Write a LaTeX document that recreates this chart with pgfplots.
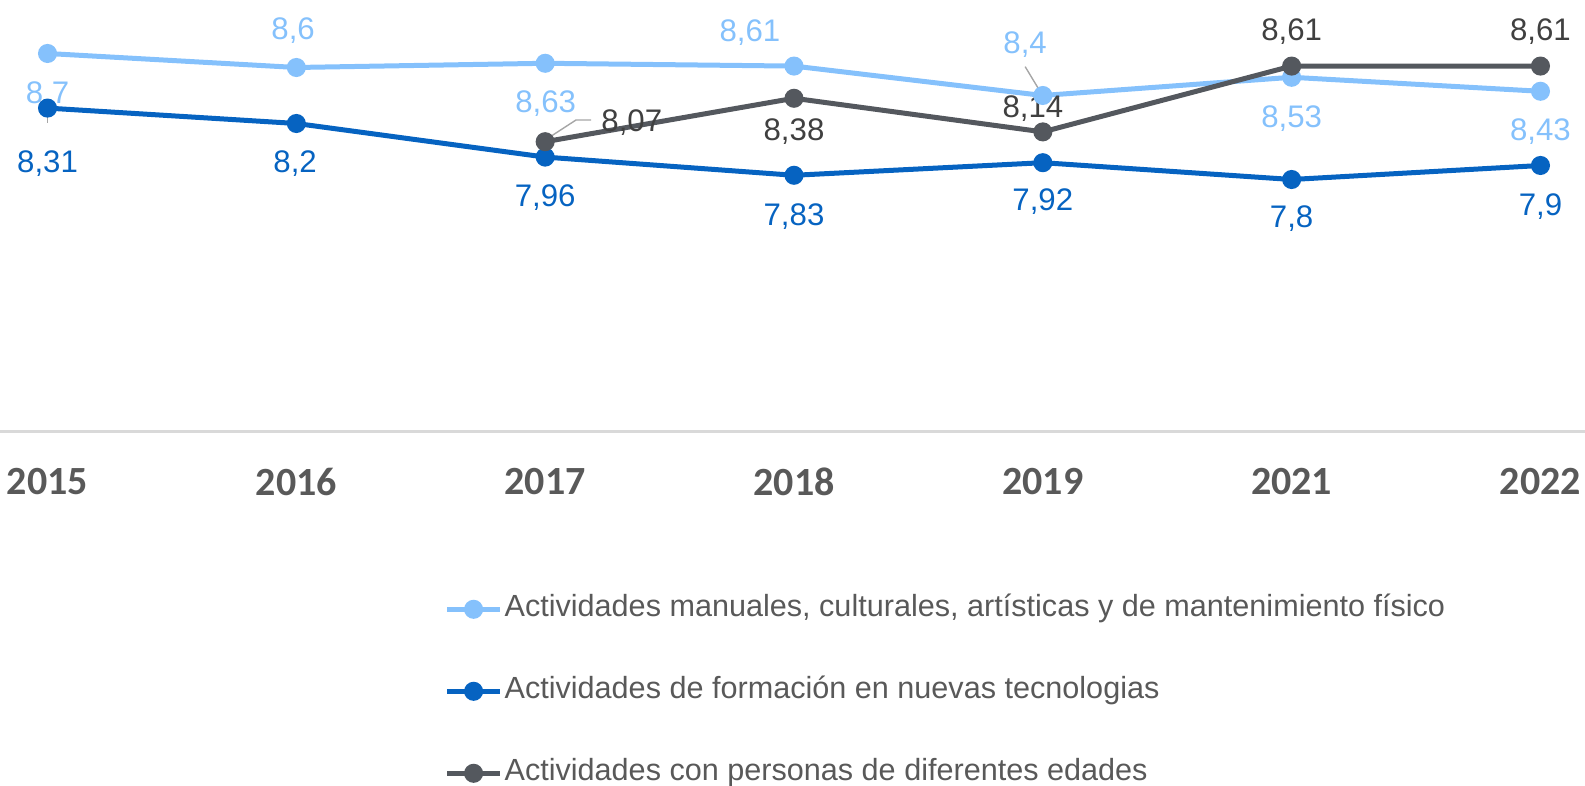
\documentclass[border=0pt]{standalone}
\usepackage{pgfplots}
\pgfplotsset{compat=1.18}
\usepackage{fontspec}
\setmainfont{Liberation Sans}
\newfontfamily\tickfont{Carlito}
\definecolor{lblue}{RGB}{133,193,252}
\definecolor{dblue}{RGB}{6,99,193}
\definecolor{sgray}{RGB}{84,88,94}
\definecolor{labgray}{RGB}{64,64,64}
\definecolor{txtgray}{RGB}{89,89,89}
\definecolor{axgray}{RGB}{217,217,217}
\definecolor{leadgray}{RGB}{166,166,166}
\newcommand\lblfont{\fontsize{15.6}{18}\selectfont}
\newcommand\legfont{\fontsize{15.3}{18}\selectfont}
\newcommand\lab[4]{\node[text=#1,font=\lblfont,inner sep=0pt] at (axis cs:#2,#3) {#4};}

\begin{document}
\begin{tikzpicture}
\path[use as bounding box] (0,0) rectangle (792.5pt,-393pt);
\begin{axis}[
  at={(0,0)}, anchor=north west,
  scale only axis, width=792.5pt, height=215.75pt,
  xmin=-0.191, xmax=6.179, ymin=6, ymax=9.082,
  clip=false,
  axis x line*=bottom, axis y line=none,
  x axis line style={-, draw=axgray, line width=1.2pt},
  xtick={0,1,2,3,4,5,6},
  xticklabels={2015,2016,2017,2018,2019,2021,2022},
  major tick length=0pt,
  xticklabel style={font=\tickfont\bfseries\fontsize{20}{22}\selectfont, text=txtgray, anchor=center, yshift=-25pt},
  every axis plot/.append style={line width=2.5pt, mark=*, mark size=3.5pt},
  legend image code/.code={\draw[mark repeat=2,mark phase=2,#1] plot coordinates {(0pt,0pt) (13.25pt,0pt) (26.5pt,0pt)};},
  legend style={draw=none, fill=none, at={(axis description cs:0.2805,-0.3738)}, anchor=north west,
    inner sep=0pt, outer sep=0pt, row sep=24.5pt,
    nodes={inner sep=1pt, text height=11pt, text depth=3.5pt, text=txtgray, font=\legfont}},
  legend cell align=left,
]
\addplot[color=lblue] coordinates {(0,8.7)(1,8.6)(2,8.63)(3,8.61)(4,8.4)(5,8.53)(6,8.43)};
\addlegendentry{Actividades manuales, culturales, artísticas y de mantenimiento físico}
\addplot[color=dblue] coordinates {(0,8.31)(1,8.2)(2,7.96)(3,7.83)(4,7.92)(5,7.8)(6,7.9)};
\addlegendentry{Actividades de formación en nuevas tecnologias}
\addplot[color=sgray] coordinates {(2,8.07)(3,8.38)(4,8.14)(5,8.61)(6,8.61)};
\addlegendentry{Actividades con personas de diferentes edades}

% leader lines
\draw[leadgray, line width=0.7pt] (axis cs:0,8.346) -- (axis cs:0,8.203);
\draw[leadgray, line width=0.7pt] (axis cs:2,8.082) -- (axis cs:2.124,8.225) -- (axis cs:2.185,8.225);
\draw[leadgray, line width=0.7pt] (axis cs:3.929,8.606) -- (axis cs:4.002,8.391);

% data labels
\lab{lblue}{0}{8.404}{8,7}
\lab{lblue}{0.987}{8.866}{8,6}
\lab{lblue}{2.002}{8.339}{8,63}
\lab{lblue}{2.823}{8.852}{8,61}
\lab{lblue}{3.929}{8.761}{8,4}
\lab{lblue}{5}{8.238}{8,53}
\lab{lblue}{6}{8.144}{8,43}
\lab{dblue}{0}{7.913}{8,31}
\lab{dblue}{0.995}{7.913}{8,2}
\lab{dblue}{2}{7.668}{7,96}
\lab{dblue}{3}{7.538}{7,83}
\lab{dblue}{4}{7.639}{7,92}
\lab{dblue}{5}{7.523}{7,8}
\lab{dblue}{6}{7.603}{7,9}
\lab{labgray}{2.348}{8.209}{8,07}
\lab{labgray}{3}{8.144}{8,38}
\lab{labgray}{3.96}{8.303}{8,14}
\lab{labgray}{5}{8.859}{8,61}
\lab{labgray}{6}{8.859}{8,61}
\end{axis}
\end{tikzpicture}
\end{document}
